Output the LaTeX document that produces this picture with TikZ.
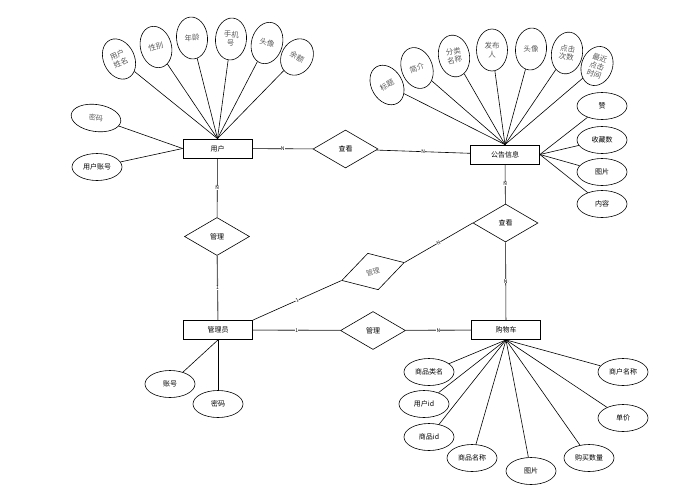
\documentclass[tikz,border=0pt]{standalone}
\usepackage{fontspec}
\newfontfamily\cjk{Noto Sans CJK SC}
\usetikzlibrary{shapes.geometric}
\begin{document}
\begin{tikzpicture}[x=1pt,y=-1pt,
 every node/.style={font=\cjk\fontsize{7}{8}\selectfont},
 ent/.style={draw, line width=0.8pt, minimum width=69pt, minimum height=19pt, inner sep=0},
 rel/.style={draw, diamond, line width=0.6pt, minimum width=65pt, minimum height=38pt, inner sep=0},
 attr/.style={draw, ellipse, line width=0.6pt, minimum width=50pt, minimum height=27pt, inner sep=0},
 tall/.style={draw, ellipse, line width=0.6pt, minimum width=31pt, minimum height=42pt, inner sep=0, text=black!65, align=center, font=\cjk\fontsize{7.5}{8.5}\selectfont},
 lnk/.style={line width=0.6pt},
 heavy/.style={line width=1.1pt, draw=black!60},
 card/.style={fill=white, inner sep=0.3pt, font=\cjk\fontsize{5}{5}\selectfont}]
\useasboundingbox (0,0) rectangle (698,493);

% entities
\node[ent] (user) at (217.5,148.5) {用户};
\node[ent] (notice) at (505,154.5) {公告信息};
\node[ent] (admin) at (218,330) {管理员};
\node[ent] (cart) at (506,330) {购物车};

% relations
\node[rel] (view1) at (345.5,149) {查看};
\node[rel] (mng1) at (217,236.5) {管理};
\node[rel] (view2) at (505.5,223) {查看};
\node[rel, rotate=16, text=black!60] (mng2) at (373,271.5) {管理};
\node[rel] (mng3) at (373,330.5) {管理};

% relation links
\draw[lnk] (user) -- node[card]{N} (view1);
\draw[lnk] (view1) -- node[card]{N} (notice);
\draw[lnk] (user) -- node[card]{N} (mng1);
\draw[heavy] (mng1) -- node[card]{1} (admin);
\draw[lnk] (notice) -- node[card]{N} (view2);
\draw[lnk] (view2) -- node[card]{N} (cart);
\draw[lnk] (admin.north east) -- node[card, sloped]{1} (mng2.west);
\draw[lnk] (mng2.east) -- node[card, sloped]{N} (view2.west);
\draw[heavy] (admin) -- node[card]{1} (mng3);
\draw[heavy] (mng3) -- node[card]{N} (cart);

% user attributes
\node[tall, rotate=25] (uname) at (119,59) {用户\\姓名};
\node[tall, rotate=15] (usex) at (156,47) {性别};
\node[tall, rotate=5] (uage) at (192,38) {年龄};
\node[tall, rotate=-5] (uphone) at (231,39) {手机\\号};
\node[tall, rotate=-15] (uavatar) at (267,43) {头像};
\node[tall, rotate=-30, minimum height=38pt] (ubal) at (297,57) {余额};
\node[attr, rotate=-8, text=black!65] (upwd) at (96,118) {密码};
\node[attr] (uacct) at (97,167) {用户账号};
\foreach \a in {uname,usex,uage,uphone,uavatar,ubal} \draw[lnk] (\a) -- (user.north);
\foreach \a in {upwd,uacct} \draw[lnk] (\a) -- (user.west);

% notice attributes
\node[tall, rotate=30] (ntitle) at (387,85) {标题};
\node[tall, rotate=20] (nintro) at (417,68) {简介};
\node[tall, rotate=10] (ncat) at (454,56) {分类\\名称};
\node[tall] (npub) at (492,50) {发布\\人};
\node[tall, rotate=-5] (navatar) at (531,49) {头像};
\node[tall, rotate=-10] (nclick) at (567,53) {点击\\次数};
\node[tall, rotate=-20, minimum height=40pt] (nlast) at (597,66) {最近\\点击\\时间};
\node[attr] (nlike) at (602,106) {赞};
\node[attr] (nfav) at (602,140) {收藏数};
\node[attr] (npic) at (602,172) {图片};
\node[attr] (ncontent) at (602,204) {内容};
\foreach \a in {ntitle,nintro,ncat,npub,navatar,nclick,nlast} \draw[lnk] (\a) -- (notice.north);
\foreach \a in {nlike,nfav,npic,ncontent} \draw[lnk] (\a) -- (notice.east);

% admin attributes
\node[attr] (aacct) at (170,384) {账号};
\node[attr] (apwd) at (218,404) {密码};
\foreach \a in {aacct,apwd} \draw[lnk] (\a) -- (admin.south);

% cart attributes
\node[attr] (c1) at (429,372) {商品类名};
\node[attr] (c2) at (424,404) {用户id};
\node[attr] (c3) at (429,437) {商品id};
\node[attr] (c4) at (472,458) {商品名称};
\node[attr] (c5) at (531,471) {图片};
\node[attr] (c6) at (589,458) {购买数量};
\node[attr] (c7) at (623,418) {单价};
\node[attr] (c8) at (623,372) {商户名称};
\foreach \a in {c1,c2,c3,c4,c5,c6,c7,c8} \draw[lnk] (\a) -- (cart.south);
\end{tikzpicture}
\end{document}
